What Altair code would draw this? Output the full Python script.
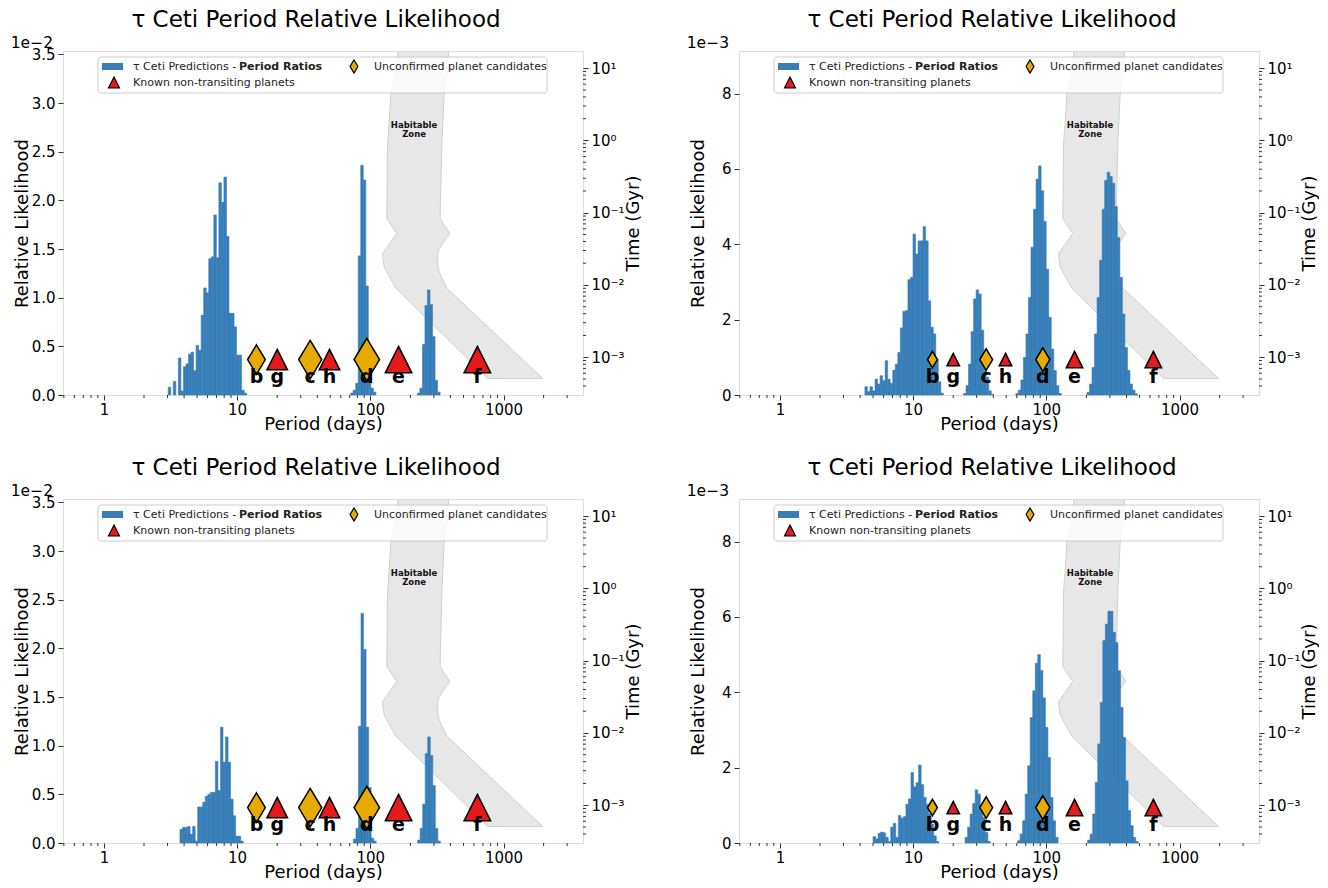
import altair as alt
import pandas as pd

# ---------------- data ----------------
BIN_DEX = 0.019  # histogram bin width in log10(period)

# Panel 1 (top-left), values in units of 1e-2
p1_a_start, p1_a = 0.483, [0.08, 0.0, 0.14, 0.0, 0.38, 0.04, 0.29, 0.32, 0.42, 0.44, 0.25, 0.51, 0.46, 0.82, 1.10, 1.05, 1.40, 1.42, 1.85, 1.41, 2.18, 1.98, 2.24, 1.63, 0.84, 0.84, 0.70, 0.41, 0.41, 0.05, 0.02]
p1_b_start, p1_b = 1.852, [0.02, 0.05, 0.12, 1.43, 2.36, 2.21, 1.12, 0.36, 0.07, 0.03]
p1_c_start, p1_c = 2.353, [0.02, 0.07, 0.52, 0.92, 1.08, 0.93, 0.60, 0.15, 0.03]

# Panel 2 (top-right), values in units of 1e-3
p2_a_start, p2_a = 0.638, [0.22, 0.09, 0.22, 0.11, 0.42, 0.29, 0.51, 0.38, 0.91, 0.42, 0.31, 0.66, 0.82, 1.13, 1.78, 2.22, 2.24, 3.06, 3.12, 4.27, 3.74, 4.09, 4.09, 4.47, 4.09, 2.50, 1.80, 1.62, 0.95, 0.35, 0.05]
p2_b_start, p2_b = 1.378, [0.04, 0.25, 0.82, 1.68, 2.55, 2.79, 2.68, 1.72, 0.73, 0.47, 0.11, 0.02]
p2_c_start, p2_c = 1.771, [0.04, 0.13, 0.40, 1.00, 1.62, 2.59, 3.92, 4.93, 5.73, 6.08, 5.42, 4.61, 3.34, 2.06, 1.22, 0.65, 0.25, 0.04]
p2_d_start, p2_d = 2.305, [0.07, 0.29, 0.73, 1.62, 2.59, 3.58, 4.93, 5.70, 5.91, 5.80, 5.62, 5.00, 4.18, 3.12, 2.15, 1.26, 0.65, 0.29, 0.13, 0.03]

# Panel 3 (bottom-left), values in units of 1e-2
p3_a_start, p3_a = 0.571, [0.14, 0.16, 0.16, 0.17, 0.09, 0.17, 0.02, 0.37, 0.37, 0.42, 0.48, 0.50, 0.52, 0.52, 0.84, 0.54, 1.19, 0.83, 1.09, 0.83, 0.45, 0.28, 0.07, 0.07, 0.02]
p3_b_start, p3_b = 1.873, [0.04, 0.15, 1.20, 2.36, 1.99, 1.19, 0.57, 0.05, 0.02]
p3_c_start, p3_c = 2.355, [0.03, 0.15, 0.40, 0.92, 1.09, 0.90, 0.59, 0.15, 0.02]

# Panel 4 (bottom-right), values in units of 1e-3
p4_a_start, p4_a = 0.699, [0.17, 0.11, 0.26, 0.29, 0.27, 0.15, 0.04, 0.42, 0.52, 0.15, 0.73, 0.66, 0.70, 1.03, 1.17, 1.87, 1.49, 1.60, 2.07, 1.55, 1.21, 1.03, 0.77, 0.50, 0.19, 0.04]
p4_b_start, p4_b = 1.39, [0.15, 0.42, 0.77, 1.05, 1.41, 1.30, 0.99, 0.68, 0.28, 0.04]
p4_c_start, p4_c = 1.784, [0.06, 0.24, 0.59, 1.30, 2.05, 3.33, 4.04, 4.77, 5.00, 4.58, 3.85, 3.07, 2.27, 1.21, 0.59, 0.15]
p4_d_start, p4_d = 2.31, [0.08, 0.24, 0.77, 1.61, 2.63, 3.73, 5.37, 5.81, 6.15, 6.15, 5.59, 5.32, 4.57, 3.60, 2.80, 1.65, 0.86, 0.46, 0.15, 0.04]

# Planets
planet_names = ["b", "g", "c", "h", "d", "e", "f"]
planet_periods = [13.97, 20.0, 35.36, 49.41, 94.11, 162.87, 636.13]
planet_kinds = ["cand", "known", "cand", "known", "cand", "known", "known"]
size_big = [870, 420, 1480, 420, 1806, 702, 702]
size_small = [272, 156, 462, 156, 552, 272, 272]

# Habitable zone (time in Gyr, inner / outer period in days)
hz_time = [17.3, 9.28, 4.19, 0.853, 0.0828, 0.0518, 0.0318, 0.0272, 0.0232, 0.0177, 0.0151, 0.0120, 0.0090, 0.0080, 5.08e-4]
hz_inner = [162, 155, 142.6, 134.6, 133, 158, 131.5, 123.6, 124.5, 127, 133, 142.6, 155.6, 166, 759]
hz_outer = [388, 380, 358, 344, 334, 395, 329, 322, 320, 323, 329, 348, 377, 403, 1967]

# Axis tick values
period_major = [1, 10, 100, 1000]
period_minor = [0.5, 0.6, 0.7, 0.8, 0.9, 2, 3, 4, 5, 6, 7, 8, 9, 20, 30, 40, 50, 60, 70, 80, 90,
                200, 300, 400, 500, 600, 700, 800, 900, 2000, 3000]
time_major = [1e-3, 1e-2, 1e-1, 1, 10]
time_minor = [4e-4, 5e-4, 6e-4, 7e-4, 8e-4, 9e-4] + [m * 10.0 ** e for e in range(-3, 2) for m in range(2, 10)]
time_minor = [t for t in time_minor if t < 17.3]

TITLE = "τ Ceti Period Relative Likelihood"

# ---------------- styling ----------------
W, H = 520, 344
FONT = "DejaVu Sans"
BLUE = "#377eb8"
GOLD = "#e6ab02"
RED = "#e41a1c"
DIAMOND = "M0,-1L0.6,0L0,1L-0.6,0Z"
TRIANGLE = "M0,-1L1,1L-1,1Z"
TICK = "#333333"

x_scale = alt.Scale(type="log", domain=[0.493, 3950], nice=False)
t_scale = alt.Scale(type="log", domain=[3.0e-4, 17.3], nice=False)

x_axis = alt.Axis(values=period_major, format="d", title="Period (days)", titleFontSize=18,
                  titleFontWeight="normal", titleColor="black", labelFontSize=15, labelColor="black",
                  tickSize=5, tickColor=TICK, labelPadding=2, domain=False, grid=False,
                  titleY=29, titleBaseline="middle", labelFont=FONT, titleFont=FONT)

t_axis = alt.Axis(orient="right", values=time_major, title="Time (Gyr)",
                  labelExpr="datum.value > 5 ? '10¹' : datum.value > 0.5 ? '10⁰' : datum.value > 0.05 ? '10⁻¹' : datum.value > 0.005 ? '10⁻²' : '10⁻³'",
                  titleFontSize=18, titleFontWeight="normal", titleColor="black", labelFontSize=15,
                  labelColor="black", tickSize=5, tickColor=TICK, labelPadding=3, domain=False, grid=False,
                  titleX=50, titleY=H / 2, titleAngle=270, titleAlign="center", titleBaseline="middle",
                  labelFont=FONT, titleFont=FONT)


def hist_table(clusters):
    rows = []
    for start, heights in clusters:
        for i, h in enumerate(heights):
            if h <= 0:
                continue
            rows.append({"lo": 10 ** (start + i * BIN_DEX), "hi": 10 ** (start + (i + 1) * BIN_DEX),
                         "h": h, "z": 0.0})
    return pd.DataFrame(rows)


def panel(clusters, ymax, yvalues, yfmt, exp_text, sizes):
    y_scale = alt.Scale(domain=[0, ymax], nice=False, zero=True)
    y_axis = alt.Axis(orient="left", values=yvalues, format=yfmt, title="Relative Likelihood",
                      titleFontSize=18, titleFontWeight="normal", titleColor="black", labelFontSize=15,
                      labelColor="black", tickSize=5, tickColor=TICK, labelPadding=3, domain=False,
                      grid=False, titleX=-41, titleY=H / 2, titleAngle=270, titleAlign="center",
                      titleBaseline="middle", labelFont=FONT, titleFont=FONT)

    def X(f, **kw):
        return alt.X(f, type="quantitative", scale=x_scale, axis=x_axis, **kw)

    def Yl(f):
        return alt.Y(f, type="quantitative", scale=y_scale, axis=y_axis)

    def Yt(f):
        return alt.Y(f, type="quantitative", scale=t_scale, axis=t_axis)

    # --- right (time) group ---
    hz_df = pd.DataFrame({"t": hz_time, "pin": hz_inner, "pout": hz_outer})
    hz = alt.Chart(hz_df).mark_area(orient="horizontal", color="#e7e7e7", stroke="#d0d0d0",
                                     strokeWidth=1, clip=True).encode(
        y=Yt("t"), x=X("pin", stack=None), x2="pout")
    hz_lbl = pd.DataFrame({"p": [213, 213], "t": [1.66, 1.24], "txt": ["Habitable", "Zone"]})
    hz_text = alt.Chart(hz_lbl).mark_text(font=FONT, fontSize=8.5, fontWeight="bold", color="#111",
                                          baseline="middle", align="center").encode(
        x=X("p"), y=Yt("t"), text="txt:N")
    tminor = alt.Chart(pd.DataFrame({"t": time_minor})).mark_rule(color=TICK, strokeWidth=1).encode(
        y=Yt("t"), x=alt.value(W), x2=alt.value(W + 3))
    right = alt.layer(hz, hz_text, tminor)

    # --- left (likelihood) group ---
    bars = alt.Chart(hist_table(clusters)).mark_rect(color=BLUE, stroke=BLUE, strokeWidth=0.6).encode(
        x=X("lo"), x2="hi", y=Yl("h"), y2="z")
    xminor = alt.Chart(pd.DataFrame({"p": period_minor})).mark_rule(color=TICK, strokeWidth=1).encode(
        x=X("p"), y=alt.value(H), y2=alt.value(H + 3))

    pl = pd.DataFrame({"name": planet_names, "p": planet_periods, "kind": planet_kinds, "s": sizes})
    pl["y"] = ymax * 0.103
    pl["ly"] = ymax * 0.035
    cand = alt.Chart(pl[pl.kind == "cand"]).mark_point(
        shape=DIAMOND, filled=True, fill=GOLD, stroke="black", strokeWidth=1.5, opacity=1).encode(
        x=X("p"), y=Yl("y"), size=alt.Size("s:Q", scale=None, legend=None))
    known = alt.Chart(pl[pl.kind == "known"]).mark_point(
        shape=TRIANGLE, filled=True, fill=RED, stroke="black", strokeWidth=1.5, opacity=1).encode(
        x=X("p"), y=Yl("y"), size=alt.Size("s:Q", scale=None, legend=None))
    letters = alt.Chart(pl).mark_text(font=FONT, fontSize=19, fontWeight="bold", color="black",
                                      baseline="alphabetic", align="center").encode(
        x=X("p"), y=Yl("ly"), text="name:N")

    one = pd.DataFrame({"a": [0]})
    box = alt.Chart(one).mark_rect(fill="white", fillOpacity=0.8, stroke="#cccccc", strokeWidth=1,
                                   cornerRadius=3).encode(
        x=alt.value(35), x2=alt.value(484), y=alt.value(6), y2=alt.value(42))
    patch = alt.Chart(one).mark_rect(color=BLUE).encode(
        x=alt.value(39), x2=alt.value(60), y=alt.value(12), y2=alt.value(19))
    leg_d = alt.Chart(one).mark_point(shape=DIAMOND, filled=True, fill=GOLD, stroke="black",
                                      strokeWidth=1.2, opacity=1, size=170).encode(
        x=alt.value(291), y=alt.value(15.5))
    leg_t = alt.Chart(one).mark_point(shape=TRIANGLE, filled=True, fill=RED, stroke="black",
                                      strokeWidth=1.2, opacity=1, size=120).encode(
        x=alt.value(51), y=alt.value(31.5))

    def ltxt(x, y, s, bold=False):
        return alt.Chart(one).mark_text(font=FONT, fontSize=11, align="left", baseline="middle",
                                        fontWeight="bold" if bold else "normal", color="#222").encode(
            x=alt.value(x), y=alt.value(y), text=alt.value(s))

    legend = [box, patch, leg_d, leg_t,
              ltxt(70, 15.5, "τ Ceti Predictions - "), ltxt(176, 15.5, "Period Ratios", True),
              ltxt(311, 15.5, "Unconfirmed planet candidates"),
              ltxt(70, 31.5, "Known non-transiting planets")]
    expo = alt.Chart(one).mark_text(font=FONT, fontSize=15.5, align="right", baseline="alphabetic",
                                    color="black").encode(
        x=alt.value(-10), y=alt.value(-3), text=alt.value(exp_text))
    title = alt.Chart(one).mark_text(font=FONT, fontSize=23, align="center", baseline="alphabetic",
                                     color="black").encode(
        x=alt.value(W / 2 - 7), y=alt.value(-24), text=alt.value(TITLE))

    left = alt.layer(bars, xminor, cand, known, letters, *legend, expo, title)

    return alt.layer(right, left).resolve_scale(y="independent").properties(width=W, height=H)


yv2 = [0, 0.5, 1.0, 1.5, 2.0, 2.5, 3.0, 3.5]
yv3 = [0, 2, 4, 6, 8]
p1 = panel([(p1_a_start, p1_a), (p1_b_start, p1_b), (p1_c_start, p1_c)], 3.535, yv2, ".1f", "1e−2", size_big)
p2 = panel([(p2_a_start, p2_a), (p2_b_start, p2_b), (p2_c_start, p2_c), (p2_d_start, p2_d)], 9.13, yv3, "d", "1e−3", size_small)
p3 = panel([(p3_a_start, p3_a), (p3_b_start, p3_b), (p3_c_start, p3_c)], 3.535, yv2, ".1f", "1e−2", size_big)
p4 = panel([(p4_a_start, p4_a), (p4_b_start, p4_b), (p4_c_start, p4_c), (p4_d_start, p4_d)], 9.13, yv3, "d", "1e−3", size_small)

chart = alt.concat(p1, p2, p3, p4, columns=2, spacing=alt.RowColnumber(row=104, column=156),
                   bounds="flush").properties(
    padding={"left": 2, "top": 0, "right": 0, "bottom": 0}
).configure_view(stroke="#333333", strokeWidth=1).configure(font=FONT, background="white")

chart.save("out.html", embed_options={"renderer": "svg", "actions": False})
